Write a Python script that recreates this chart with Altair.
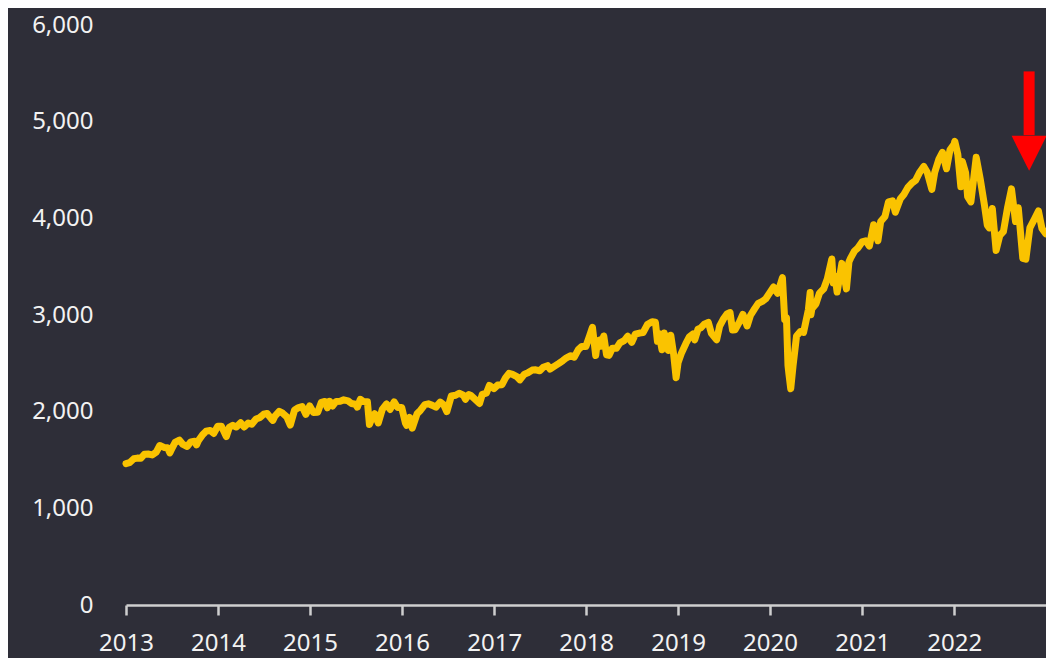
import altair as alt
import pandas as pd

dates = [
 "2013-01-01","2013-01-15","2013-02-01","2013-02-15","2013-03-01","2013-03-15","2013-04-01","2013-04-15","2013-05-01","2013-05-15","2013-06-01","2013-06-15","2013-06-24","2013-07-01","2013-07-15","2013-08-01","2013-08-15","2013-09-01","2013-09-15","2013-10-01","2013-10-08","2013-10-15","2013-11-01","2013-11-15","2013-12-01","2013-12-15","2013-12-31",
 "2014-01-15","2014-02-03","2014-02-15","2014-03-01","2014-03-15","2014-04-01","2014-04-15","2014-05-01","2014-05-15","2014-06-01","2014-06-15","2014-07-01","2014-07-15","2014-08-01","2014-08-07","2014-08-15","2014-09-01","2014-09-15","2014-10-01","2014-10-15","2014-11-01","2014-11-15","2014-12-01","2014-12-16","2014-12-31",
 "2015-01-15","2015-02-01","2015-02-15","2015-03-01","2015-03-11","2015-03-20","2015-04-01","2015-04-15","2015-05-01","2015-05-15","2015-06-01","2015-06-15","2015-07-01","2015-07-08","2015-07-20","2015-08-01","2015-08-17","2015-08-25","2015-09-01","2015-09-15","2015-09-29","2015-10-15","2015-11-01","2015-11-15","2015-12-01","2015-12-15","2015-12-31",
 "2016-01-15","2016-01-20","2016-02-01","2016-02-11","2016-03-01","2016-03-15","2016-04-01","2016-04-15","2016-05-01","2016-05-15","2016-06-01","2016-06-15","2016-06-27","2016-07-15","2016-08-01","2016-08-15","2016-09-01","2016-09-09","2016-09-22","2016-10-01","2016-10-15","2016-11-04","2016-11-15","2016-12-01","2016-12-13","2016-12-31",
 "2017-01-15","2017-02-01","2017-02-15","2017-03-01","2017-03-15","2017-04-01","2017-04-13","2017-05-01","2017-05-15","2017-06-01","2017-06-15","2017-07-01","2017-07-15","2017-08-01","2017-08-11","2017-09-01","2017-09-15","2017-10-01","2017-10-15","2017-11-01","2017-11-15","2017-12-01","2017-12-15","2017-12-31",
 "2018-01-15","2018-01-26","2018-02-08","2018-02-15","2018-02-27","2018-03-01","2018-03-12","2018-03-23","2018-04-02","2018-04-15","2018-05-01","2018-05-15","2018-06-01","2018-06-15","2018-07-01","2018-07-15","2018-08-01","2018-08-15","2018-09-01","2018-09-20","2018-10-03","2018-10-11","2018-10-17","2018-10-29","2018-11-07","2018-11-23","2018-12-03","2018-12-14","2018-12-24",
 "2019-01-01","2019-01-15","2019-02-01","2019-02-15","2019-03-01","2019-03-08","2019-03-21","2019-04-01","2019-04-15","2019-05-01","2019-05-13","2019-06-03","2019-06-15","2019-07-01","2019-07-15","2019-07-26","2019-08-05","2019-08-15","2019-09-01","2019-09-15","2019-10-02","2019-10-15","2019-11-01","2019-11-15","2019-12-01","2019-12-15","2019-12-31",
 "2020-01-15","2020-01-31","2020-02-19","2020-02-28","2020-03-06","2020-03-12","2020-03-16","2020-03-23","2020-04-01","2020-04-15","2020-05-01","2020-05-13","2020-06-01","2020-06-08","2020-06-11","2020-06-15","2020-07-01","2020-07-15","2020-08-01","2020-08-15","2020-09-02","2020-09-08","2020-09-15","2020-09-23","2020-10-12","2020-10-30","2020-11-09","2020-11-15","2020-12-01","2020-12-15","2020-12-31",
 "2021-01-15","2021-01-29","2021-02-15","2021-03-04","2021-03-15","2021-04-01","2021-04-15","2021-05-01","2021-05-12","2021-06-01","2021-06-15","2021-07-01","2021-07-15","2021-08-01","2021-08-15","2021-09-02","2021-09-15","2021-10-04","2021-10-15","2021-11-01","2021-11-15","2021-12-01","2021-12-15","2021-12-31",
 "2022-01-03","2022-01-15","2022-01-27","2022-02-02","2022-02-15","2022-02-23","2022-03-08","2022-03-29","2022-04-15","2022-05-01","2022-05-12","2022-05-20","2022-06-01","2022-06-16","2022-07-01","2022-07-15","2022-08-01","2022-08-16","2022-09-01","2022-09-12","2022-09-30","2022-10-12","2022-10-28","2022-11-15","2022-12-01","2022-12-15","2022-12-30",
]
values = [
 1462,1472,1513,1520,1518,1560,1562,1552,1582,1650,1630,1626,1573,1614,1682,1706,1661,1640,1688,1695,1656,1698,1762,1798,1806,1775,1848,
 1848,1742,1838,1859,1841,1885,1842,1883,1870,1924,1937,1973,1981,1925,1910,1955,2003,1984,1946,1862,2018,2039,2053,1972,2059,
 1992,1995,2096,2105,2040,2108,2059,2106,2108,2122,2111,2084,2077,2047,2128,2104,2102,1867,1914,1978,1884,2023,2079,2023,2102,2043,2044,
 1880,1859,1940,1829,1978,2015,2072,2081,2065,2047,2099,2071,2000,2162,2170,2190,2170,2128,2177,2168,2133,2085,2180,2191,2271,2239,
 2275,2279,2349,2396,2385,2362,2329,2388,2402,2430,2433,2423,2459,2476,2441,2476,2500,2529,2557,2579,2564,2642,2675,2674,
 2786,2873,2581,2731,2744,2677,2783,2588,2582,2656,2655,2711,2735,2780,2718,2801,2813,2818,2901,2931,2925,2728,2809,2641,2814,2633,2790,2600,2351,
 2507,2610,2706,2775,2803,2743,2854,2867,2905,2924,2811,2744,2886,2964,3014,3025,2844,2847,2926,3007,2887,2995,3066,3120,3140,3168,3231,
 3289,3225,3386,2954,2972,2480,2386,2237,2470,2783,2830,2820,3055,3232,3002,3066,3115,3226,3271,3372,3580,3331,3401,3237,3534,3270,3550,3585,3662,3695,3756,
 3768,3714,3934,3768,3968,4020,4170,4181,4063,4202,4246,4320,4360,4395,4468,4537,4480,4300,4471,4613,4683,4513,4709,4766,
 4796,4662,4327,4589,4471,4225,4170,4631,4392,4131,3930,3901,4101,3667,3825,3863,4118,4305,3967,4110,3586,3577,3901,3992,4076,3895,3840,
]

years = list(range(2013, 2023))
y_ticks = [0, 1000, 2000, 3000, 4000, 5000, 6000]

arrow_date = ["2022-10-25", "2022-10-25"]
arrow_shaft = [5520, 4860]
arrow_head = [4672]

df = pd.DataFrame({"date": dates, "value": values})
shaft_df = pd.DataFrame({"date": arrow_date, "value": arrow_shaft})
head_df = pd.DataFrame({"date": arrow_date[:1], "value": arrow_head})

label_font = "Noto Sans"
x_scale = alt.Scale(domain=[alt.DateTime(year=2013, month=1, date=1), alt.DateTime(year=2022, month=12, date=31)])
y_scale = alt.Scale(domain=[0, 6000], nice=False)

line = alt.Chart(df).mark_line(color="#FAC300", strokeWidth=7, strokeJoin="round", strokeCap="round").encode(
    x=alt.X("date:T", scale=x_scale, title=None,
            axis=alt.Axis(values=[alt.DateTime(year=y, month=1, date=1) for y in years], format="%Y",
                          domain=True, domainColor="#cfcfcf", domainWidth=2.5,
                          ticks=True, tickColor="#cfcfcf", tickWidth=2.5, tickSize=10,
                          labelColor="#f2f2f2", labelFont=label_font, labelFontSize=24,
                          labelPadding=16, grid=False, labelFlush=False)),
    y=alt.Y("value:Q", scale=y_scale, title=None,
            axis=alt.Axis(values=y_ticks, format=",.0f", domain=False, ticks=False, tickSize=0,
                          labelColor="#f2f2f2", labelFont=label_font, labelFontSize=24,
                          labelPadding=33, grid=False)),
)

shaft = alt.Chart(shaft_df).mark_line(color="#FF0000", strokeWidth=11, strokeCap="butt").encode(
    x=alt.X("date:T", scale=x_scale), y=alt.Y("value:Q", scale=y_scale)
)
head = alt.Chart(head_df).mark_point(shape="M-1,-1L1,-1L0,1Z", filled=True, fill="#FF0000",
                                     color="#FF0000", opacity=1, size=1225, strokeWidth=0).encode(
    x=alt.X("date:T", scale=x_scale), y=alt.Y("value:Q", scale=y_scale)
)

chart = alt.layer(line, shaft, head).properties(
    width=920, height=580,
    autosize=alt.AutoSizeParams(type="none"),
    padding={"left": 118, "top": 17, "right": 0, "bottom": 53},
    background="#2e2e38",
).configure_view(stroke=None)

chart.save("out.html", embed_options={"renderer": "svg", "actions": False})
